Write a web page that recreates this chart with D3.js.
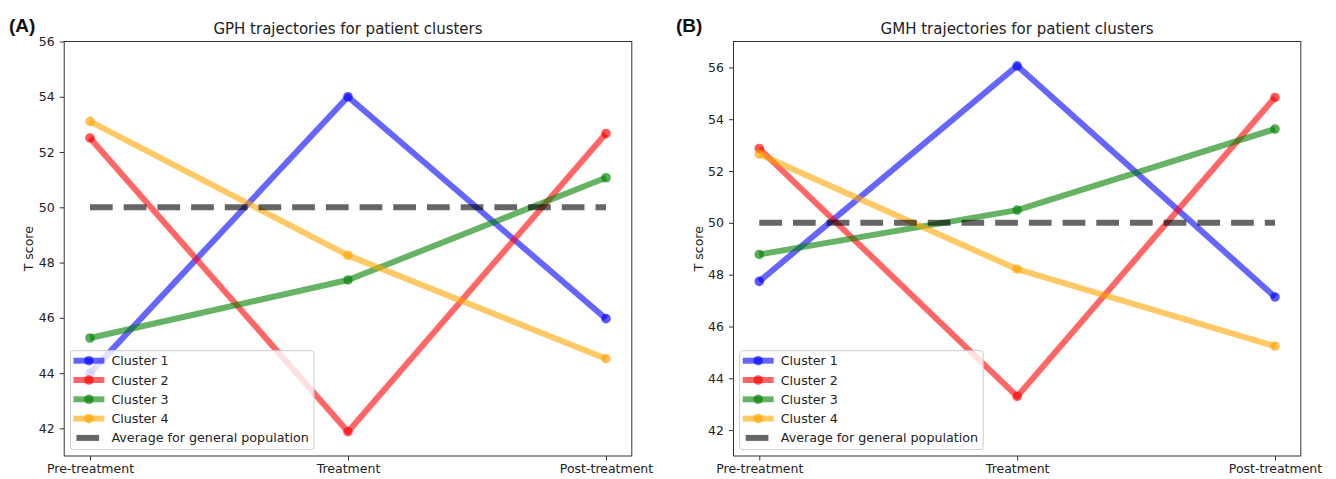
<!DOCTYPE html>
<html>
<head>
<meta charset="utf-8">
<script src="https://cdn.jsdelivr.net/npm/d3@7"></script>
<style>
  body { margin: 0; background: #fff; }
  svg { display: block; font-family: "DejaVu Sans", sans-serif; }
</style>
</head>
<body>
<script>
// Datos
const categories = ["Pre-treatment", "Treatment", "Post-treatment"];
const yTicks = [42, 44, 46, 48, 50, 52, 54, 56];
const seriesNames = ["Cluster 1", "Cluster 2", "Cluster 3", "Cluster 4"];
const averageLabel = "Average for general population";
const populationAverage = 50;

// GPH (panel A)
const gphCluster1 = [44.0, 54.0, 45.97];
const gphCluster2 = [52.51, 41.88, 52.67];
const gphCluster3 = [45.27, 47.37, 51.07];
const gphCluster4 = [53.11, 48.26, 44.52];

// GMH (panel B)
const gmhCluster1 = [47.74, 56.06, 47.14];
const gmhCluster2 = [52.87, 43.3, 54.84];
const gmhCluster3 = [48.78, 50.49, 53.62];
const gmhCluster4 = [52.65, 48.21, 45.24];

const colors = ["#0000ff", "#ff0000", "#008000", "#ffa500"];

const width = 1336;
const height = 479;

const svg = d3.select("body").append("svg")
  .attr("width", width)
  .attr("height", height);

const panels = [
  { tag: "(A)", tagX: 9, title: "GPH trajectories for patient clusters",
    left: 64.2, right: 631.8, yDomain: [41, 56], labelX: 33,
    series: [gphCluster1, gphCluster2, gphCluster3, gphCluster4] },
  { tag: "(B)", tagX: 676, title: "GMH trajectories for patient clusters",
    left: 733.5, right: 1300.8, yDomain: [41, 57], labelX: 703,
    series: [gmhCluster1, gmhCluster2, gmhCluster3, gmhCluster4] }
];

const plotTop = 41.5, plotBottom = 456;

panels.forEach((p) => {
  const g = svg.append("g");

  const x = d3.scalePoint().domain(categories).range([p.left, p.right]).padding(0.1);
  const y = d3.scaleLinear().domain(p.yDomain).range([plotBottom, plotTop]);

  // Etiqueta del panel
  svg.append("text")
    .attr("x", p.tagX).attr("y", 31.5)
    .attr("font-family", "'Liberation Sans', Arial, sans-serif")
    .attr("font-weight", "bold")
    .attr("font-size", 19)
    .attr("fill", "#111")
    .text(p.tag);

  // Título
  g.append("text")
    .attr("x", (p.left + p.right) / 2).attr("y", 33.5)
    .attr("text-anchor", "middle")
    .attr("font-size", 15)
    .attr("fill", "#222")
    .text(p.title);

  // Líneas de los clusters
  const line = d3.line().x((d, i) => x(categories[i])).y((d) => y(d));
  p.series.forEach((vals, k) => {
    g.append("path")
      .datum(vals)
      .attr("d", line)
      .attr("fill", "none")
      .attr("stroke", colors[k])
      .attr("stroke-opacity", 0.6)
      .attr("stroke-width", 6)
      .attr("stroke-linejoin", "round");
    g.selectAll(null)
      .data(vals)
      .enter()
      .append("circle")
      .attr("cx", (d, i) => x(categories[i]))
      .attr("cy", (d) => y(d))
      .attr("r", 4.8)
      .attr("fill", colors[k])
      .attr("fill-opacity", 0.65);
  });

  // Media de la población general
  g.append("line")
    .attr("x1", x(categories[0])).attr("x2", x(categories[2]))
    .attr("y1", y(populationAverage)).attr("y2", y(populationAverage))
    .attr("stroke", "#000")
    .attr("stroke-opacity", 0.6)
    .attr("stroke-width", 6)
    .attr("stroke-dasharray", "22.7 11");

  // Ejes
  const xAxis = g.append("g")
    .attr("transform", `translate(0,${plotBottom})`)
    .call(d3.axisBottom(x).tickSizeInner(4.5).tickSizeOuter(0).tickPadding(4));
  const yAxis = g.append("g")
    .attr("transform", `translate(${p.left},0)`)
    .call(d3.axisLeft(y).tickValues(yTicks).tickSizeInner(4.5).tickSizeOuter(0).tickPadding(5));
  [xAxis, yAxis].forEach((a) => {
    a.select(".domain").remove();
    a.selectAll("line").attr("stroke", "#333");
    a.selectAll("text").attr("font-size", 12.5).attr("fill", "#222")
      .attr("font-family", "'DejaVu Sans', sans-serif");
  });

  // Marco
  g.append("rect")
    .attr("x", p.left).attr("y", plotTop)
    .attr("width", p.right - p.left).attr("height", plotBottom - plotTop)
    .attr("fill", "none")
    .attr("stroke", "#333")
    .attr("stroke-width", 1);

  // Título del eje Y
  g.append("text")
    .attr("transform", `translate(${p.labelX},${(plotTop + plotBottom) / 2}) rotate(-90)`)
    .attr("text-anchor", "middle")
    .attr("font-size", 12.5)
    .attr("fill", "#222")
    .text("T score");

  // Leyenda
  const lx = p.left + 6.2;
  const ly = 350.7;
  const legend = g.append("g").attr("transform", `translate(${lx},${ly})`);
  legend.append("rect")
    .attr("width", 243.5).attr("height", 99)
    .attr("rx", 3)
    .attr("fill", "#fff").attr("fill-opacity", 0.8)
    .attr("stroke", "#ccc");
  const rowY = (i) => 10 + i * 19.3;
  seriesNames.forEach((name, k) => {
    legend.append("line")
      .attr("x1", 3).attr("x2", 34)
      .attr("y1", rowY(k)).attr("y2", rowY(k))
      .attr("stroke", colors[k]).attr("stroke-opacity", 0.6)
      .attr("stroke-width", 6);
    legend.append("circle")
      .attr("cx", 18.5).attr("cy", rowY(k)).attr("r", 4.8)
      .attr("fill", colors[k]).attr("fill-opacity", 0.65);
    legend.append("text")
      .attr("x", 41).attr("y", rowY(k) + 4.6)
      .attr("font-size", 12.7).attr("fill", "#222")
      .text(name);
  });
  legend.append("line")
    .attr("x1", 6).attr("x2", 28.7)
    .attr("y1", rowY(4)).attr("y2", rowY(4))
    .attr("stroke", "#000").attr("stroke-opacity", 0.6)
    .attr("stroke-width", 6);
  legend.append("text")
    .attr("x", 41).attr("y", rowY(4) + 4.6)
    .attr("font-size", 12.7).attr("fill", "#222")
    .text(averageLabel);
});
</script>
</body>
</html>
